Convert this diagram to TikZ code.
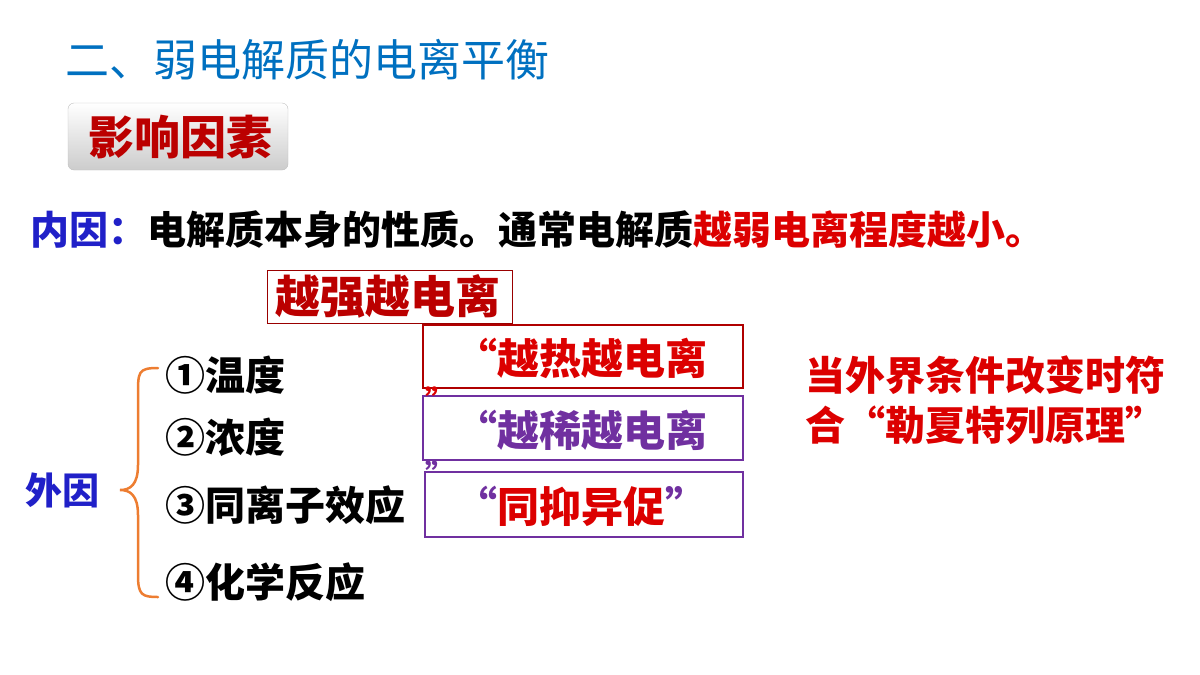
\documentclass[tikz,border=0pt]{standalone}
\usepackage{fontspec}
\setmainfont{Noto Sans CJK SC}
\begin{document}
\begin{tikzpicture}[x=1pt,y=-1pt,
  t/.style={inner sep=0pt,anchor=west,font=\bfseries\fontsize{40}{40}\selectfont}]
\useasboundingbox (0,0) rectangle (1200,675);
\definecolor{tblue}{RGB}{0,112,192}
\definecolor{dblue}{RGB}{32,32,200}
\definecolor{rred}{RGB}{220,0,0}
\definecolor{pur}{RGB}{112,48,160}
\definecolor{ora}{RGB}{237,125,49}
\node[t,font=\fontsize{44}{44}\selectfont,text=tblue] (title) at (65,60) {二、弱电解质的电离平衡};
\shade[top color=white,bottom color=black!20,rounded corners=6pt,draw=black!25] (68,103) rectangle (288,170);
\node[t,font=\bfseries\fontsize{46}{46}\selectfont,text=rred!85!black] (yx) at (88,137) {影响因素};
\node[t,font=\bfseries\fontsize{39}{39}\selectfont] (ny) at (30,230) {\textcolor{dblue}{内因：}电解质本身的性质。通常电解质\textcolor{rred}{越弱电离程度越小。}};
\node[draw=rred!70!black,line width=0.8pt,minimum width=245pt,minimum height=53pt,inner sep=0pt] (b0) at (389.5,296.5) {};
\node[t,font=\bfseries\fontsize{45}{45}\selectfont,text=rred!85!black] (b0t) at (275,296) {越强越电离};
\node[draw=rred!80!black,line width=2pt,minimum width=320pt,minimum height=63pt] (b1) at (583,356.5) {};
\node[t,font=\bfseries\fontsize{42}{42}\selectfont,text=rred] (b1t) at (455,358) {“越热越电离};
\node[draw=pur,line width=2pt,minimum width=320pt,minimum height=64pt] (b2) at (583,428) {};
\node[t,font=\bfseries\fontsize{42}{42}\selectfont,text=pur] (b2t) at (455,430) {“越稀越电离};
\node[draw=pur,line width=2pt,minimum width=318pt,minimum height=65pt] (b3) at (584,504.5) {};
\node[t,font=\bfseries\fontsize{42}{42}\selectfont,text=rred] (b3t) at (455,506) {\textcolor{pur}{“}同抑异促\textcolor{pur}{”}};
\node[t,font=\bfseries\fontsize{30}{30}\selectfont,text=rred] (q1) at (425,400) {”};
\node[t,font=\bfseries\fontsize{30}{30}\selectfont,text=pur] (q2) at (425,474) {”};
\node[t] (i1) at (165,375) {①温度};
\node[t] (i2) at (165,437) {②浓度};
\node[t] (i3) at (165,505) {③同离子效应};
\node[t] (i4) at (165,582) {④化学反应};
\node[t,font=\bfseries\fontsize{37}{37}\selectfont,text=dblue] (wy) at (25,490) {外因};
\draw[ora,line width=2.5pt,line cap=round] (158,368) .. controls (138,368) and (138,372) .. (138,395) -- (138,465) .. controls (138,485) and (130,490) .. (120,490) .. controls (130,490) and (138,495) .. (138,515) -- (138,575) .. controls (138,595) and (142,597) .. (158,597);
\node[t,text=rred] (r1) at (805,375) {当外界条件改变时符};
\node[t,text=rred] (r2) at (805,425) {合“勒夏特列原理”};
\end{tikzpicture}
\end{document}
